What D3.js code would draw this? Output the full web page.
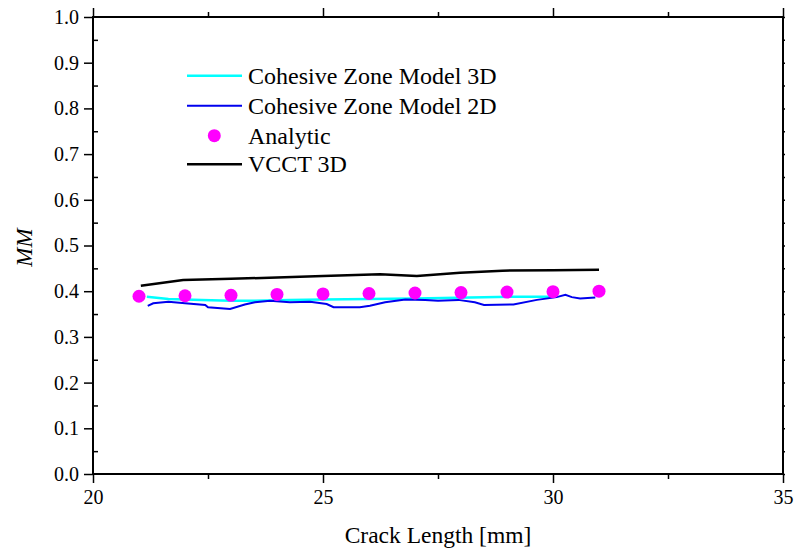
<!DOCTYPE html>
<html>
<head>
<meta charset="utf-8">
<script src="https://cdn.jsdelivr.net/npm/d3@7"></script>
<style>
  html, body { margin: 0; padding: 0; background: #fff; }
  svg { display: block; }
  svg text { font-family: 'Liberation Serif', 'Times New Roman', serif; }
</style>
</head>
<body>
<svg id="chart" width="795" height="551"></svg>
<script>
// Cohesive Zone Model 3D
const czm3dX = [21.17, 21.64, 22.36, 23.0, 23.52, 24.28, 25.0, 26.02, 27.0, 28.5, 29.3, 30.08];
const czm3dY = [0.388, 0.383, 0.381, 0.379, 0.379, 0.381, 0.382, 0.383, 0.384, 0.387, 0.388, 0.388];

// Cohesive Zone Model 2D
const czm2dX = [21.19, 21.31, 21.64, 22.0, 22.44, 22.5, 22.98, 23.3, 23.52, 23.85, 24.28, 24.72, 25.08, 25.23, 25.8, 26.02, 26.35, 26.79, 27.22, 27.5, 27.94, 28.3, 28.5, 29.14, 29.65, 30.08, 30.27, 30.41, 30.59, 30.92];
const czm2dY = [0.368, 0.3735, 0.377, 0.3735, 0.370, 0.365, 0.361, 0.371, 0.3757, 0.379, 0.3757, 0.377, 0.372, 0.365, 0.365, 0.368, 0.376, 0.382, 0.381, 0.379, 0.381, 0.3757, 0.370, 0.371, 0.381, 0.387, 0.392, 0.387, 0.384, 0.386];

// Analytic solution
const analyticX = [21, 22, 23, 24, 25, 26, 27, 28, 29, 30, 31];
const analyticY = [0.389, 0.390, 0.391, 0.393, 0.394, 0.395, 0.396, 0.397, 0.398, 0.399, 0.400];

// VCCT 3D
const vcctX = [21.04, 21.96, 23, 24, 25, 26.24, 27.04, 27.98, 28.9, 30, 31];
const vcctY = [0.412, 0.4245, 0.427, 0.430, 0.433, 0.437, 0.433, 0.4405, 0.445, 0.446, 0.447];

const xTicks = [20, 25, 30, 35];
const yTicks = [0.0, 0.1, 0.2, 0.3, 0.4, 0.5, 0.6, 0.7, 0.8, 0.9, 1.0];
const xMinor = [22.5, 27.5, 32.5];
const yMinor = [0.05, 0.15, 0.25, 0.35, 0.45, 0.55, 0.65, 0.75, 0.85, 0.95];

const seriesNames = ["Cohesive Zone Model 3D", "Cohesive Zone Model 2D", "Analytic", "VCCT 3D"];
const colors = { czm3d: "#00ffff", czm2d: "#0000ee", analytic: "#ff00ff", vcct: "#000000" };

const FONT = "'Liberation Serif', 'Times New Roman', serif";

const svg = d3.select("#chart");
const L = 93, R = 783, T = 17, B = 474;

const x = d3.scaleLinear().domain([20, 35]).range([L, R]);
const y = d3.scaleLinear().domain([0, 1]).range([B, T]);

const zip = (xs, ys) => xs.map((v, i) => [v, ys[i]]);
const line = d3.line().x(d => x(d[0])).y(d => y(d[1]));

const plot = svg.append("g");

// series
plot.append("path").datum(zip(vcctX, vcctY))
  .attr("d", line).attr("fill", "none").attr("stroke", colors.vcct).attr("stroke-width", 2.5);
plot.append("path").datum(zip(czm3dX, czm3dY))
  .attr("d", line).attr("fill", "none").attr("stroke", colors.czm3d).attr("stroke-width", 2.5);
plot.append("path").datum(zip(czm2dX, czm2dY))
  .attr("d", line).attr("fill", "none").attr("stroke", colors.czm2d).attr("stroke-width", 2);
plot.selectAll("circle.an").data(zip(analyticX, analyticY)).enter().append("circle")
  .attr("class", "an")
  .attr("cx", d => x(d[0])).attr("cy", d => y(d[1])).attr("r", 6.5)
  .attr("fill", colors.analytic);

// axes
const fmt1 = d3.format(".1f");
const styleAxis = (g) => {
  g.attr("font-family", FONT).attr("font-size", 20);
  g.select(".domain").remove();
  g.selectAll("line").attr("stroke", "#000").attr("stroke-width", 1.5);
  g.selectAll("text").style("font-family", FONT).style("font-size", "20px").attr("fill", "#000");
};

svg.append("g").attr("transform", `translate(0,${B})`)
  .call(d3.axisBottom(x).tickValues(xTicks).tickFormat(d3.format("d")).tickSize(9).tickPadding(7))
  .call(styleAxis);
svg.append("g").attr("transform", `translate(0,${B})`)
  .call(d3.axisBottom(x).tickValues(xMinor).tickFormat("").tickSize(5))
  .call(styleAxis);
svg.append("g").attr("transform", `translate(${L},0)`)
  .call(d3.axisLeft(y).tickValues(yTicks).tickFormat(fmt1).tickSize(9).tickPadding(5))
  .call(styleAxis);
svg.append("g").attr("transform", `translate(${L},0)`)
  .call(d3.axisRight(y).tickValues(yMinor).tickFormat("").tickSize(5))
  .call(styleAxis);
svg.append("g").attr("transform", `translate(0,${T})`)
  .call(d3.axisTop(x).tickValues(xTicks).tickFormat("").tickSize(9))
  .call(styleAxis);
svg.append("g").attr("transform", `translate(0,${T})`)
  .call(d3.axisTop(x).tickValues(xMinor).tickFormat("").tickSize(5))
  .call(styleAxis);
svg.append("g").attr("transform", `translate(${R},0)`)
  .call(d3.axisRight(y).tickValues(yTicks.concat(yMinor)).tickFormat("").tickSize(2))
  .call(styleAxis);

// frame
svg.append("rect").attr("x", L).attr("y", T).attr("width", R - L).attr("height", B - T)
  .attr("fill", "none").attr("stroke", "#000").attr("stroke-width", 2);

// axis titles
svg.append("text").attr("x", 438).attr("y", 543).attr("text-anchor", "middle")
  .style("font-family", FONT).style("font-size", "23.5px").text("Crack Length [mm]");
svg.append("text").attr("transform", `translate(32,${(T + B) / 2 + 2}) rotate(-90)`)
  .attr("text-anchor", "middle").style("font-family", FONT).style("font-size", "23px")
  .style("font-style", "italic").text("MM");

// legend
const lg = svg.append("g");
const rowY = [75.7, 105.7, 135.7, 164.3];
const keys = ["czm3d", "czm2d", "analytic", "vcct"];
keys.forEach((k, i) => {
  if (k === "analytic") {
    lg.append("circle").attr("cx", 214.3).attr("cy", rowY[i]).attr("r", 6.5).attr("fill", colors[k]);
  } else {
    lg.append("line").attr("x1", 187).attr("x2", 242).attr("y1", rowY[i]).attr("y2", rowY[i])
      .attr("stroke", colors[k]).attr("stroke-width", k === "czm2d" ? 2 : 2.5);
  }
  lg.append("text").attr("x", 248).attr("y", rowY[i] + 8)
    .style("font-family", FONT).style("font-size", "24px")
    .text(seriesNames[i]);
});
</script>
</body>
</html>
